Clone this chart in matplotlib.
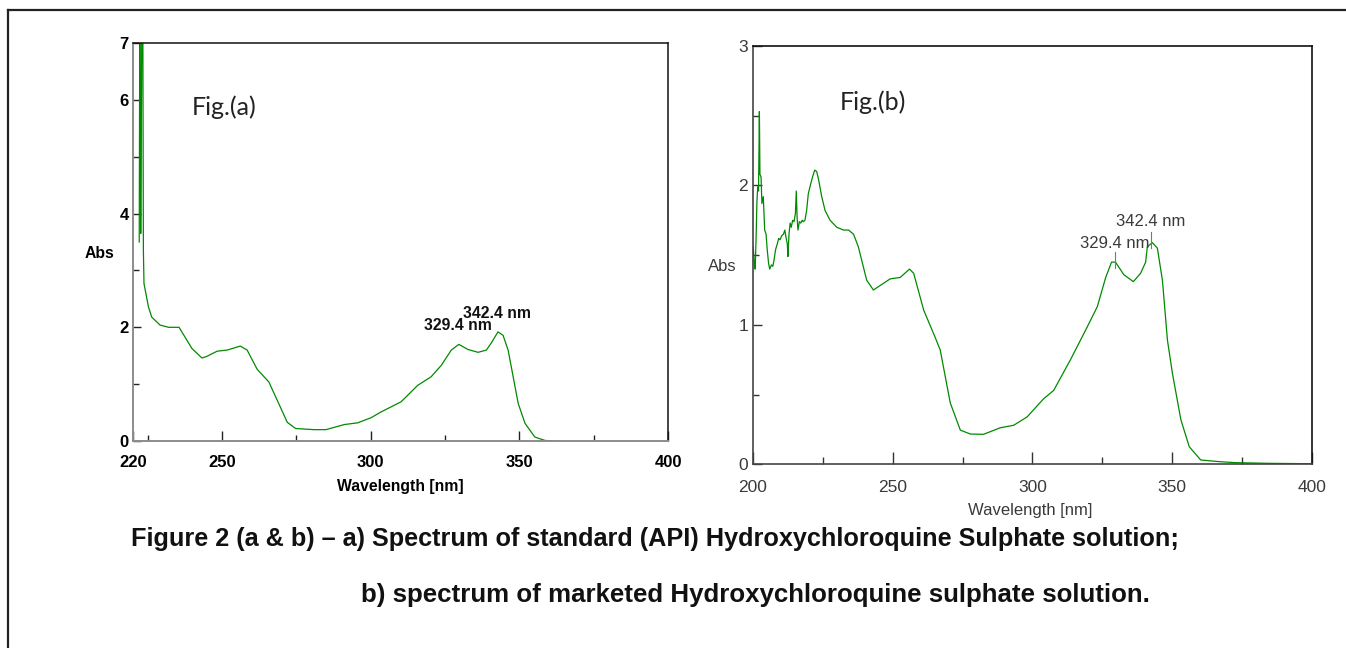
import matplotlib
matplotlib.use("Agg")
import matplotlib.pyplot as plt
from matplotlib.lines import Line2D

# ---------------------------------------------
# Data
# ---------------------------------------------
wl_a = [222.1, 222.3, 222.4, 222.5, 222.6, 222.8, 223.0, 223.3, 223.5, 223.7,
        225.2, 226.3, 229.1, 232.0, 235.5, 239.8, 243.2, 244.9, 248.3, 251.7,
        256.1, 258.4, 261.8, 265.7, 268.5, 271.9, 274.7, 280.9, 284.9, 291.1,
        295.6, 300.1, 303.4, 306.8, 310.2, 315.8, 320.3, 323.7, 327.1, 329.6,
        332.7, 336.1, 338.9, 340.6, 342.8, 344.5, 346.2, 347.9, 349.6, 351.9,
        355.2, 358.6, 363.0]
abs_a = [3.5, 7.6, 6.0, 5.5, 3.65, 5.5, 7.6, 7.6, 3.35, 2.77,
         2.36, 2.18, 2.04, 2.0, 2.0, 1.63, 1.46, 1.49, 1.58, 1.6,
         1.67, 1.6, 1.26, 1.04, 0.72, 0.33, 0.22, 0.2, 0.2, 0.29,
         0.32, 0.41, 0.51, 0.6, 0.69, 0.98, 1.13, 1.33, 1.6, 1.70,
         1.61, 1.56, 1.6, 1.73, 1.92, 1.86, 1.6, 1.13, 0.66, 0.31,
         0.07, 0.01, 0.0]

wl_b = [200.1, 200.5, 200.8, 201.2, 201.4, 201.7, 202.0, 202.3, 202.5, 202.9,
        203.2, 203.7, 204.2, 204.7, 205.1, 205.6, 206.0, 206.6, 207.1, 207.5,
        208.1, 208.7, 209.2, 209.7, 210.3, 210.9, 211.4, 211.8, 212.3, 212.5,
        212.9, 213.3, 213.7, 214.2, 214.7, 215.2, 215.5, 215.8, 216.1, 216.6,
        217.1, 217.6, 218.0, 218.6, 219.2, 219.8, 220.4, 221.3, 222.1, 222.8,
        223.5, 224.6, 225.8, 227.6, 230.0, 232.4, 234.2, 236.0, 237.7, 240.7,
        243.1, 246.1, 249.1, 252.7, 256.0, 257.5, 261.1, 265.2, 267.0, 270.6,
        274.2, 277.8, 282.5, 288.5, 293.3, 298.1, 304.0, 307.6, 313.6, 319.6,
        323.2, 326.2, 328.3, 329.7, 332.7, 336.1, 338.7, 340.5, 341.1, 342.9,
        344.7, 346.5, 348.3, 350.1, 353.1, 356.1, 360.2, 366.2, 372.2, 384.1,
        400.0]
abs_b = [1.56, 1.44, 1.40, 1.68, 1.87, 1.99, 1.96, 2.53, 2.08, 2.06,
         1.87, 1.92, 1.68, 1.65, 1.54, 1.44, 1.40, 1.43, 1.42, 1.46,
         1.54, 1.58, 1.62, 1.61, 1.64, 1.65, 1.68, 1.63, 1.58, 1.49,
         1.65, 1.73, 1.70, 1.75, 1.74, 1.80, 1.96, 1.77, 1.68, 1.74,
         1.73, 1.75, 1.74, 1.75, 1.82, 1.94, 1.99, 2.06, 2.11, 2.10,
         2.04, 1.92, 1.82, 1.75, 1.70, 1.68, 1.68, 1.65, 1.56, 1.32,
         1.25, 1.29, 1.33, 1.34, 1.40, 1.37, 1.105, 0.91, 0.82, 0.44,
         0.245, 0.217, 0.215, 0.262, 0.28, 0.34, 0.47, 0.53, 0.75, 0.985,
         1.13, 1.34, 1.45, 1.45, 1.36, 1.31, 1.37, 1.45, 1.56, 1.59,
         1.55, 1.32, 0.89, 0.65, 0.32, 0.126, 0.031, 0.02, 0.012, 0.007,
         0.004]

peak_labels = ["329.4 nm", "342.4 nm"]
peak_wl = [329.4, 342.4]
peak_text_a = [2.04, 2.25]     # label heights in (a)
peak_text_b = [1.585, 1.743]   # label heights in (b)
peak_mark_b = [(1.41, 1.52), (1.55, 1.664)]

xticks_a = [220, 250, 300, 350, 400]
yticks_a = [0, 2, 4, 6, 7]
xticks_b = [200, 250, 300, 350, 400]
yticks_b = [0, 1, 2, 3]

caption_1 = "Figure 2 (a & b) \u2013 a) Spectrum of standard (API) Hydroxychloroquine Sulphate solution;"
caption_2 = "b) spectrum of marketed Hydroxychloroquine sulphate solution."

GREEN = "#008a00"
NARROW = ["Liberation Sans Narrow", "Liberation Sans", "DejaVu Sans"]
FS_A = 11.3
FS_B = 12


def main():
    fig = plt.figure(figsize=(13.46, 6.48), dpi=100)

    # -----------------------------------------
    # Panel (a)
    # -----------------------------------------
    ax = fig.add_axes([0.0988, 0.3194, 0.3975, 0.6142])
    ax.plot(wl_a, abs_a, color=GREEN, lw=0.9)
    ax.set_xlim(220, 400)
    ax.set_ylim(0, 7)
    ax.set_xticks(xticks_a)
    ax.set_xticks([225, 275, 325, 375], minor=True)
    ax.set_yticks(yticks_a)
    ax.set_yticks([1, 3, 5], minor=True)
    ax.tick_params(direction="in", which="major", length=7.5, width=1, color="#222222")
    ax.tick_params(direction="in", which="minor", length=4.3, width=1, color="#222222")
    ax.tick_params(axis="x", which="major", pad=10)
    ax.tick_params(axis="y", which="major", pad=3, length=5.5)
    ax.tick_params(axis="y", which="minor", length=4)
    for lab in ax.get_xticklabels() + ax.get_yticklabels():
        lab.set_fontfamily(NARROW)
        lab.set_fontweight("bold")
        lab.set_fontsize(FS_A + 0.7)
    for side in ("left", "bottom"):
        ax.spines[side].set_color("#8c8c8c")
        ax.spines[side].set_linewidth(1.4)
    for side in ("top", "right"):
        ax.spines[side].set_color("#111111")
        ax.spines[side].set_linewidth(1.1)

    ax.set_ylabel("Abs", rotation=0, family=NARROW, weight="bold", fontsize=FS_A,
                  ha="center", va="center")
    ax.yaxis.set_label_coords(-0.062, 0.472)
    ax.set_xlabel("Wavelength [nm]", family=NARROW, weight="bold", fontsize=FS_A,
                  va="center")
    ax.xaxis.set_label_coords(0.499, -0.113)

    for lbl, w, h in zip(peak_labels, peak_wl, peak_text_a):
        ax.text(w, h, lbl, family=NARROW, weight="bold", fontsize=FS_A,
                ha="center", va="center", color="#111111")
    ax.text(0.17, 0.84, "Fig.(a)", transform=ax.transAxes, family=["Lato", "DejaVu Sans"],
            fontsize=18, ha="center", va="center", color="#222222")

    # -----------------------------------------
    # Panel (b)
    # -----------------------------------------
    bx = fig.add_axes([0.5594, 0.2835, 0.4153, 0.6455])
    bx.plot(wl_b, abs_b, color=GREEN, lw=0.9)
    bx.set_xlim(200, 400)
    bx.set_ylim(0, 3)
    bx.set_xticks(xticks_b)
    bx.set_xticks([225, 275, 325, 375], minor=True)
    bx.set_yticks(yticks_b)
    bx.set_yticks([0.5, 1.5, 2.5], minor=True)
    bx.tick_params(direction="in", which="major", length=9, width=1, color="#333333")
    bx.tick_params(direction="in", which="minor", length=5, width=1, color="#333333")
    bx.tick_params(axis="x", which="major", pad=11)
    bx.tick_params(axis="y", which="major", pad=3.5, length=6.5)
    bx.tick_params(axis="y", which="minor", length=4.3)
    for lab in bx.get_xticklabels() + bx.get_yticklabels():
        lab.set_fontfamily(NARROW)
        lab.set_fontsize(FS_B + 0.5)
        lab.set_color("#3a3a3a")
    for side in ("left", "bottom"):
        bx.spines[side].set_color("#444444")
        bx.spines[side].set_linewidth(1.2)
    for side in ("top", "right"):
        bx.spines[side].set_color("#111111")
        bx.spines[side].set_linewidth(1.2)

    bx.set_ylabel("Abs", rotation=0, family=NARROW, fontsize=FS_B, color="#3a3a3a",
                  ha="center", va="center")
    bx.yaxis.set_label_coords(-0.0555, 0.4717)
    bx.set_xlabel("Wavelength [nm]", family=NARROW, fontsize=FS_B, color="#3a3a3a",
                  va="center")
    bx.xaxis.set_label_coords(0.4955, -0.1116)

    for lbl, w, h, (m0, m1) in zip(peak_labels, peak_wl, peak_text_b, peak_mark_b):
        bx.text(w, h, lbl, family=NARROW, fontsize=FS_B, ha="center", va="center",
                color="#3a3a3a")
        bx.plot([w, w], [m0, m1], color="#777777", lw=0.8)
    bx.text(0.215, 0.865, "Fig.(b)", transform=bx.transAxes, family=["Lato", "DejaVu Sans"],
            fontsize=18, ha="center", va="center", color="#222222")

    # -----------------------------------------
    # Captions and outer frame
    # -----------------------------------------
    fig.text(655 / 1346, 1 - 539 / 648, caption_1, family=["Liberation Sans", "DejaVu Sans"],
             weight="bold", fontsize=18.2, ha="center", va="center", color="#111111")
    fig.text(755 / 1346, 1 - 595 / 648, caption_2, family=["Liberation Sans", "DejaVu Sans"],
             weight="bold", fontsize=18.6, ha="center", va="center", color="#111111")

    fig.add_artist(Line2D([8 / 1346, 1.0], [1 - 10 / 648] * 2, transform=fig.transFigure,
                          color="#222222", lw=1.6))
    fig.add_artist(Line2D([8 / 1346] * 2, [0.0, 1 - 10 / 648], transform=fig.transFigure,
                          color="#222222", lw=1.6))

    fig.savefig("out.png", dpi=100, facecolor="white")
    plt.close(fig)


if __name__ == "__main__":
    main()
